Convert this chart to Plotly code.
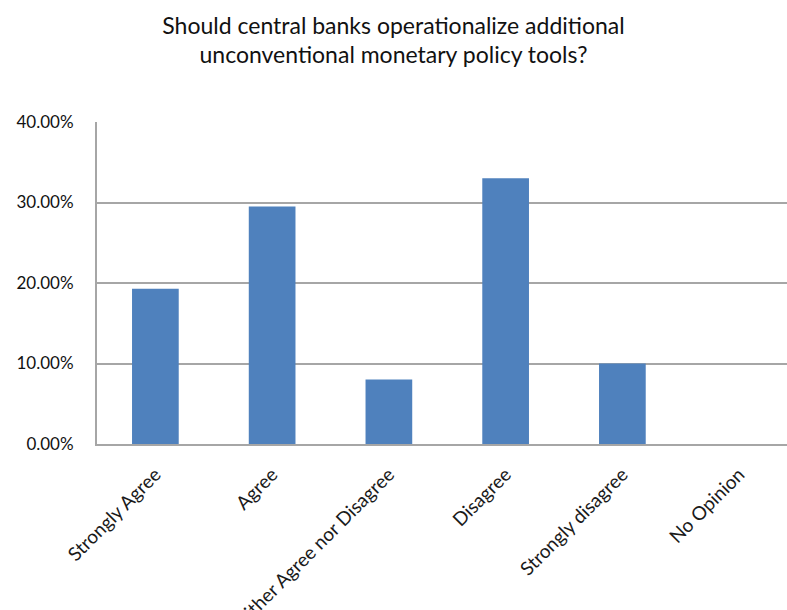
import plotly.graph_objects as go

categories = ["Strongly Agree", "Agree", "Neither Agree nor Disagree",
              "Disagree", "Strongly disagree", "No Opinion"]
values = [0.193, 0.295, 0.080, 0.330, 0.100, 0.0]
y_ticks = [0.0, 0.1, 0.2, 0.3, 0.4]

title_text = ("Should central banks operationalize additional<br>"
              "unconventional monetary policy tools?")

FONT = "Lato, 'Open Sans', sans-serif"

fig = go.Figure(
    go.Bar(
        x=categories,
        y=values,
        marker=dict(color="#4F81BD", line=dict(width=0)),
        hoverinfo="x+y",
    )
)

fig.update_layout(
    width=787,
    height=610,
    margin=dict(l=97, r=0, t=122, b=166),
    paper_bgcolor="white",
    plot_bgcolor="white",
    bargap=0.6,
    showlegend=False,
    font=dict(family=FONT, color="#111111"),
    title=dict(
        text=title_text,
        x=0.5,
        xanchor="center",
        xref="container",
        y=0.945,
        yanchor="middle",
        yref="container",
        font=dict(family=FONT, size=23, color="#111111"),
    ),
)

fig.update_xaxes(
    range=[-0.5, 5.41],
    tickangle=-45,
    tickfont=dict(family=FONT, size=19, color="#1a1a1a"),
    ticklabelstandoff=10,
    showline=True,
    linecolor="#a6a6a6",
    linewidth=2,
    showgrid=False,
    ticks="",
    automargin=False,
)

fig.update_yaxes(
    range=[0, 0.4],
    tickvals=y_ticks,
    tickformat=".2%",
    tickfont=dict(family=FONT, size=17, color="#111111"),
    ticklabelstandoff=18,
    showline=True,
    linecolor="#a6a6a6",
    linewidth=2,
    showgrid=True,
    gridcolor="#a6a6a6",
    gridwidth=2,
    zeroline=False,
    ticks="",
    ticklen=0,
    automargin=False,
)

fig.write_html(
    "out.html",
    config={"displayModeBar": False},
    post_script="document.body.style.margin='0px';document.body.style.overflow='hidden';",
)
